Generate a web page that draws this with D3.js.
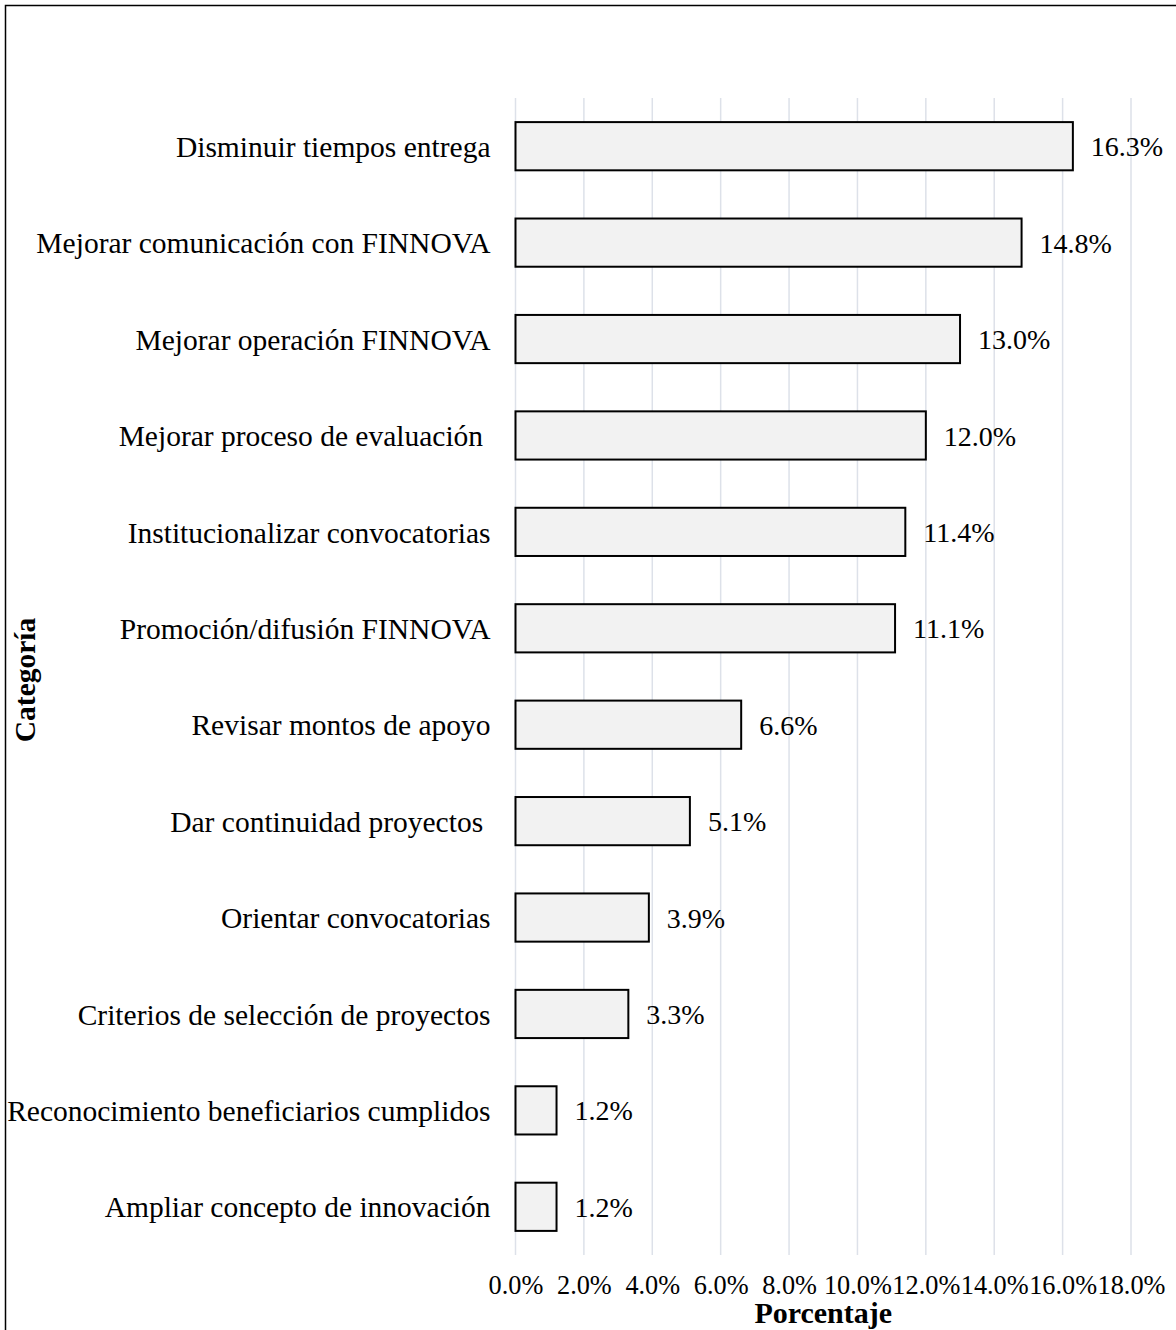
<!DOCTYPE html>
<html>
<head>
<meta charset="utf-8">
<script src="https://cdn.jsdelivr.net/npm/d3@7"></script>
<style>
html, body { margin: 0; padding: 0; background: #fff; }
svg { display: block; }
text { font-family: "Liberation Serif", "Times New Roman", serif; fill: #000; }
</style>
</head>
<body>
<svg id="chart" width="1176" height="1330"></svg>
<script>
const categories = [
  "Disminuir tiempos entrega",
  "Mejorar comunicación con FINNOVA",
  "Mejorar operación FINNOVA",
  "Mejorar proceso de evaluación ",
  "Institucionalizar convocatorias",
  "Promoción/difusión FINNOVA",
  "Revisar montos de apoyo",
  "Dar continuidad proyectos ",
  "Orientar convocatorias",
  "Criterios de selección de proyectos",
  "Reconocimiento beneficiarios cumplidos",
  "Ampliar concepto de innovación"
];
const values = [16.3, 14.8, 13.0, 12.0, 11.4, 11.1, 6.6, 5.1, 3.9, 3.3, 1.2, 1.2];
const tickValues = [0, 2, 4, 6, 8, 10, 12, 14, 16, 18];
const xTitle = "Porcentaje";
const yTitle = "Categoría";

const svg = d3.select("#chart");
const W = 1176, H = 1330;
const pLeft = 515.5, pRight = 1131, pTop = 98, pBottom = 1255;

// outer border
svg.append("rect")
  .attr("x", 5.5).attr("y", 5.5)
  .attr("width", W + 20).attr("height", H + 20)
  .attr("fill", "none").attr("stroke", "#000").attr("stroke-width", 1.5);

const x = d3.scaleLinear().domain([0, 18]).range([pLeft, pRight]);
const y = d3.scaleBand().domain(categories).range([pTop, pBottom])
  .paddingInner(0.5).paddingOuter(0.25);

// gridlines
svg.append("g").selectAll("line").data(tickValues).join("line")
  .attr("x1", d => x(d)).attr("x2", d => x(d))
  .attr("y1", pTop).attr("y2", pBottom)
  .attr("stroke", "#dde1e9").attr("stroke-width", 1.5);

// x tick labels via axis
const xAxis = d3.axisBottom(x).tickValues(tickValues)
  .tickFormat(d => d3.format(".1f")(d) + "%").tickSize(0).tickPadding(0);
const gx = svg.append("g").attr("transform", `translate(0,${pBottom})`).call(xAxis);
gx.select(".domain").remove();
gx.selectAll("text").attr("y", 0).attr("dy", 0)
  .attr("transform", "translate(0,39)")
  .style("font-size", "26.3px").style("font-family", '"Liberation Serif", serif').attr("fill", "#000");

// y labels via axis
const yAxis = d3.axisLeft(y).tickSize(0).tickPadding(25);
const gy = svg.append("g").attr("transform", `translate(${pLeft},0)`).call(yAxis);
gy.select(".domain").remove();
gy.selectAll("text").attr("dy", "0.36em")
  .style("font-size", "29.5px").style("font-family", '"Liberation Serif", serif')
  .style("white-space", "pre").attr("fill", "#000");

// bars
svg.append("g").selectAll("rect").data(values).join("rect")
  .attr("x", x(0))
  .attr("y", (d, i) => y(categories[i]))
  .attr("width", d => x(d) - x(0))
  .attr("height", y.bandwidth())
  .attr("fill", "#f2f2f2").attr("stroke", "#000").attr("stroke-width", 2);

// value labels
svg.append("g").selectAll("text").data(values).join("text")
  .attr("x", d => x(d) + 18)
  .attr("y", (d, i) => y(categories[i]) + y.bandwidth() / 2)
  .attr("dy", "0.36em")
  .style("font-size", "28px")
  .text(d => d3.format(".1f")(d) + "%");

// axis titles
svg.append("text")
  .attr("x", (pLeft + pRight) / 2).attr("y", 1323)
  .attr("text-anchor", "middle")
  .style("font-size", "30px").style("font-weight", "bold")
  .text(xTitle);

svg.append("text")
  .attr("transform", `translate(35,680) rotate(-90)`)
  .attr("text-anchor", "middle")
  .style("font-size", "29.5px").style("font-weight", "bold")
  .text(yTitle);
</script>
</body>
</html>
